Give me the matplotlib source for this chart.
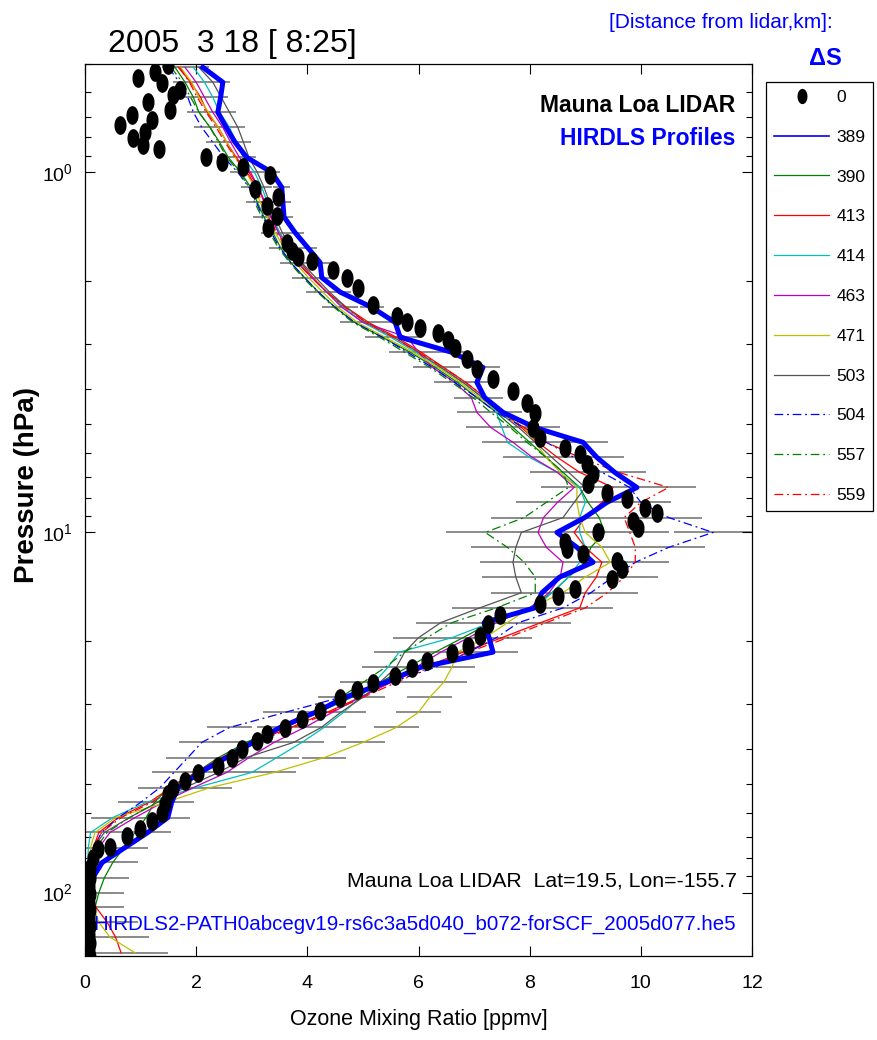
import numpy as np
import matplotlib
matplotlib.use("Agg")
import matplotlib.pyplot as plt
from matplotlib import font_manager
from matplotlib.lines import Line2D

# Narrow face for the MATLAB-like labels, plain Liberation Sans if it is missing
_installed = {f.name for f in font_manager.fontManager.ttflist}
NARROW = "Liberation Sans Narrow" if "Liberation Sans Narrow" in _installed else "Liberation Sans"
BOLD = "Liberation Sans"

plt.rcParams.update({
    "font.family": [NARROW, "DejaVu Sans"],
    "mathtext.fontset": "custom",
    "mathtext.rm": NARROW,
    "mathtext.it": NARROW,
    "mathtext.bf": NARROW,
})

# HIRDLS retrieval levels [hPa]
PRESS = [0.511, 0.562, 0.619, 0.681, 0.750, 0.825, 0.909, 1.0, 1.10, 1.21,
         1.33, 1.47, 1.62, 1.78, 1.96, 2.15, 2.37, 2.61, 2.87, 3.16,
         3.48, 3.83, 4.22, 4.64, 5.11, 5.62, 6.19, 6.81, 7.50, 8.25,
         9.09, 10.0, 11.0, 12.1, 13.3, 14.7, 16.2, 17.8, 19.6, 21.5,
         23.7, 26.1, 28.7, 31.6, 34.8, 38.3, 42.2, 46.4, 51.1, 56.2,
         61.9, 68.1, 75.0, 82.5, 90.9, 100, 110, 121, 133, 147]

# HIRDLS ozone profiles [ppmv], one per distance from the lidar (km)
O3_389 = [2.12, 2.48, 2.44, 2.39, 2.54, 2.70, 2.91, 3.36, 3.54, 3.56,
          3.58, 3.78, 4.01, 4.23, 4.26, 4.59, 5.16, 5.58, 5.67, 6.60,
          7.16, 7.05, 7.19, 7.52, 8.09, 8.96, 9.21, 9.53, 9.93, 9.39,
          8.99, 8.49, 8.85, 9.14, 8.54, 8.22, 8.09, 7.18, 7.27, 7.34,
          6.03, 5.40, 4.68, 4.14, 3.51, 3.02, 2.54, 2.07, 1.67, 1.56,
          1.49, 1.13, 0.72, 0.31, 0.14, 0.09, 0.05, 0.04, 0.02, 0.01]
O3_390 = [1.62, 1.80, 1.95, 2.05, 2.25, 2.42, 2.58, 2.80, 2.98, 3.10,
          3.22, 3.38, 3.52, 3.70, 3.95, 4.20, 4.50, 4.85, 5.35, 5.85,
          6.30, 6.70, 7.05, 7.40, 7.70, 8.00, 8.30, 8.60, 8.90, 9.05,
          9.25, 9.35, 9.10, 9.00, 8.70, 8.40, 8.00, 7.30, 6.80, 6.30,
          5.80, 5.30, 4.80, 4.20, 3.60, 2.90, 2.40, 2.00, 1.50, 1.25,
          1.10, 0.90, 0.70, 0.50, 0.35, 0.25, 0.18, 0.12, 0.10, 0.08]
O3_413 = [1.68, 1.90, 2.08, 2.20, 2.40, 2.55, 2.72, 2.95, 3.12, 3.22,
          3.35, 3.50, 3.68, 3.88, 4.10, 4.35, 4.70, 5.10, 5.60, 6.05,
          6.45, 6.85, 7.20, 7.50, 7.85, 8.15, 8.50, 8.90, 9.50, 9.30,
          9.00, 8.80, 9.00, 9.30, 9.20, 9.00, 8.90, 8.20, 7.50, 6.80,
          6.10, 5.50, 4.95, 4.35, 3.70, 3.00, 2.45, 2.00, 1.55, 1.15,
          0.60, 0.25, 0.15, 0.10, 0.08, 0.10, 0.20, 0.40, 0.55, 0.65]
O3_414 = [1.95, 2.15, 2.30, 2.42, 2.60, 2.72, 2.85, 3.05, 3.18, 3.28,
          3.38, 3.50, 3.65, 3.85, 4.08, 4.35, 4.65, 5.00, 5.50, 5.95,
          6.40, 6.80, 7.15, 7.40, 7.50, 7.60, 8.00, 8.50, 8.90, 9.00,
          8.90, 8.90, 9.00, 8.90, 8.70, 8.40, 8.10, 7.30, 6.60, 5.65,
          5.45, 5.20, 4.95, 4.65, 4.30, 3.90, 3.45, 3.00, 2.00, 1.10,
          0.50, 0.10, 0.06, 0.05, 0.05, 0.05, 0.05, 0.05, 0.05, 0.05]
O3_463 = [1.80, 2.00, 2.15, 2.30, 2.48, 2.62, 2.78, 2.98, 3.12, 3.24,
          3.34, 3.48, 3.62, 3.82, 4.08, 4.35, 4.62, 5.00, 5.80, 6.00,
          6.25, 6.65, 6.95, 7.05, 7.30, 7.70, 8.05, 8.50, 8.80, 8.50,
          8.25, 8.15, 8.30, 8.60, 8.55, 8.35, 8.00, 7.40, 6.90, 6.40,
          5.95, 5.50, 4.95, 4.45, 3.95, 3.40, 2.95, 2.55, 1.95, 1.40,
          0.90, 0.45, 0.25, 0.15, 0.10, 0.08, 0.07, 0.06, 0.06, 0.05]
O3_471 = [1.72, 1.92, 2.05, 2.22, 2.40, 2.55, 2.70, 2.90, 3.05, 3.15,
          3.28, 3.42, 3.58, 3.78, 4.02, 4.28, 4.55, 4.90, 5.40, 5.90,
          6.35, 6.75, 7.10, 7.45, 7.90, 8.10, 8.30, 8.55, 8.85, 8.85,
          8.90, 9.00, 9.30, 9.45, 9.00, 8.60, 8.00, 7.60, 7.20, 6.70,
          6.60, 6.45, 6.20, 6.00, 5.60, 5.00, 4.30, 3.40, 2.25, 1.45,
          0.55, 0.18, 0.10, 0.08, 0.08, 0.10, 0.15, 0.25, 0.45, 0.90]
O3_503 = [2.05, 2.30, 2.45, 2.60, 2.75, 2.85, 2.95, 3.10, 3.22, 3.32,
          3.42, 3.55, 3.70, 3.90, 4.15, 4.40, 4.70, 5.05, 5.55, 6.00,
          6.40, 6.80, 7.15, 7.45, 7.80, 8.10, 8.40, 8.70, 9.00, 8.80,
          8.60, 7.85, 7.75, 7.70, 7.75, 7.85, 7.10, 6.40, 6.00, 5.75,
          5.60, 5.30, 5.00, 4.60, 4.25, 3.75, 2.90, 2.40, 1.80, 1.30,
          0.80, 0.35, 0.15, 0.10, 0.08, 0.07, 0.06, 0.05, 0.05, 0.05]
O3_504 = [1.50, 1.70, 1.85, 1.95, 2.10, 2.30, 2.50, 2.75, 2.95, 3.08,
          3.20, 3.35, 3.50, 3.70, 3.95, 4.20, 4.50, 4.85, 5.35, 5.80,
          6.25, 6.65, 7.05, 7.40, 7.90, 8.30, 8.80, 9.30, 9.80, 10.00,
          10.50, 11.30, 10.50, 9.90, 9.50, 9.10, 8.60, 7.80, 7.40, 6.90,
          6.30, 5.50, 4.60, 3.60, 2.60, 2.10, 1.85, 1.60, 1.35, 1.00,
          0.60, 0.30, 0.15, 0.10, 0.08, 0.07, 0.06, 0.05, 0.05, 0.05]
O3_557 = [1.55, 1.75, 1.90, 2.05, 2.25, 2.40, 2.55, 2.78, 2.95, 3.05,
          3.18, 3.32, 3.48, 3.68, 3.92, 4.18, 4.48, 4.82, 5.30, 5.75,
          6.20, 6.60, 6.98, 7.30, 7.65, 7.95, 8.30, 8.60, 8.70, 8.30,
          7.90, 7.20, 7.60, 7.90, 8.10, 8.10, 7.40, 6.60, 6.15, 5.75,
          5.40, 5.00, 4.60, 4.10, 3.50, 2.90, 2.50, 2.10, 1.70, 1.30,
          0.80, 0.40, 0.20, 0.12, 0.10, 0.08, 0.07, 0.06, 0.06, 0.05]
O3_559 = [1.70, 1.88, 2.02, 2.18, 2.36, 2.52, 2.70, 2.92, 3.08, 3.18,
          3.30, 3.45, 3.62, 3.82, 4.08, 4.35, 4.68, 5.05, 5.55, 6.00,
          6.45, 6.85, 7.20, 7.50, 7.90, 8.30, 8.90, 9.60, 10.50, 10.00,
          9.70, 9.80, 9.90, 9.90, 9.70, 9.40, 9.00, 8.30, 7.60, 6.90,
          6.20, 5.60, 5.00, 4.40, 3.75, 3.05, 2.50, 2.05, 1.60, 1.20,
          0.65, 0.30, 0.15, 0.10, 0.08, 0.07, 0.06, 0.05, 0.05, 0.05]

# retrieval error (half width, ppmv) per level
O3_ERR = [0.12, 0.12, 0.12, 0.12, 0.13, 0.13, 0.13, 0.14, 0.15, 0.15,
          0.16, 0.16, 0.17, 0.18, 0.19, 0.20, 0.22, 0.24, 0.26, 0.28,
          0.30, 0.32, 0.32, 0.35, 0.45, 0.45, 0.48, 0.50, 0.50, 0.55,
          0.60, 0.70, 0.65, 0.60, 0.60, 0.55, 0.50, 0.45, 0.45, 0.45,
          0.42, 0.42, 0.40, 0.40, 0.40, 0.40, 0.40, 0.40, 0.40, 0.40,
          0.40, 0.42, 0.42, 0.45, 0.45, 0.45, 0.50, 0.55, 0.60, 0.60]

# Mauna Loa lidar ozone
LIDAR_P = [0.504, 0.527, 0.548, 0.565, 0.592, 0.611, 0.638, 0.673, 0.694, 0.717,
           0.740, 0.774, 0.804, 0.841, 0.863, 0.908, 0.938, 0.968, 1.02, 1.11,
           1.17, 1.24, 1.32, 1.43, 1.57, 1.65, 1.72, 1.76, 1.87, 1.97,
           2.10, 2.34, 2.50, 2.61, 2.70, 2.80, 2.93, 3.07, 3.29, 3.51,
           3.74, 4.04, 4.36, 4.65, 5.12, 5.46, 5.82, 6.05, 6.45, 6.87,
           7.33, 7.76, 8.07, 8.55, 8.83, 9.29, 9.71, 10.0, 10.6, 11.1,
           11.5, 12.0, 12.6, 13.5, 14.4, 15.0, 15.8, 16.9, 18.0, 19.4,
           20.7, 21.6, 22.8, 23.8, 25.1, 26.2, 27.3, 28.9, 31.4, 33.0,
           35.0, 36.3, 38.0, 40.0, 42.4, 44.6, 46.7, 49.1, 51.4, 53.4,
           56.9, 60.3, 63.4, 66.4, 69.8, 74.5, 75.9, 80.4, 85.7, 91.4,
           96.2, 101, 107, 112, 118, 124, 131, 138, 145, 151]
LIDAR_O3 = [1.49, 1.26, 0.95, 1.38, 1.71, 1.58, 1.13, 1.53, 0.85, 1.21,
            0.63, 1.08, 0.86, 1.04, 1.33, 2.18, 2.46, 2.84, 3.33, 3.06,
            3.47, 3.27, 3.45, 3.29, 3.63, 3.72, 3.83, 4.08, 4.46, 4.71,
            4.91, 5.18, 5.61, 5.79, 6.03, 6.35, 6.53, 6.65, 6.87, 7.05,
            7.34, 7.70, 7.95, 8.09, 8.06, 8.18, 8.63, 8.90, 9.03, 9.14,
            9.05, 9.39, 9.75, 10.07, 10.29, 9.86, 9.95, 9.23, 8.63, 8.67,
            8.96, 9.57, 9.66, 9.48, 8.81, 8.51, 8.18, 7.46, 7.25, 7.10,
            6.89, 6.60, 6.15, 5.88, 5.58, 5.18, 4.89, 4.59, 4.23, 3.90,
            3.60, 3.27, 3.09, 2.82, 2.64, 2.39, 2.03, 1.80, 1.58, 1.49,
            1.44, 1.38, 1.21, 0.99, 0.76, 0.45, 0.23, 0.14, 0.09, 0.09,
            0.08, 0.09, 0.08, 0.09, 0.08, 0.09, 0.08, 0.09, 0.08, 0.09]

DISTANCES = ["389", "390", "413", "414", "463", "471", "503", "504", "557", "559"]
PROFILES = [O3_389, O3_390, O3_413, O3_414, O3_463, O3_471, O3_503, O3_504, O3_557, O3_559]

DASHDOT = (0, (7, 3, 1.5, 3))
STYLES = {
    "389": ("#0000ff", "-", 3.6),
    "390": ("#008000", "-", 0.9),
    "413": ("#ff0000", "-", 0.9),
    "414": ("#00bfbf", "-", 0.9),
    "463": ("#bf00bf", "-", 0.9),
    "471": ("#bfbf00", "-", 0.9),
    "503": ("#555555", "-", 0.9),
    "504": ("#0000ff", DASHDOT, 0.9),
    "557": ("#008000", DASHDOT, 0.9),
    "559": ("#ff0000", DASHDOT, 0.9),
}

# tall ellipse marker for the lidar points
_t = np.linspace(0, 2 * np.pi, 25)
DOT = np.column_stack([0.62 * np.cos(_t), np.sin(_t)])

fig = plt.figure(figsize=(8.77, 10.4), dpi=100)
ax = fig.add_axes([0.0969, 0.0808, 0.7606, 0.8577])

for name, prof in zip(DISTANCES, PROFILES):
    ax.errorbar(prof, PRESS, xerr=O3_ERR, fmt="none", ecolor="#8c8c8c",
                elinewidth=1.4, capsize=0, zorder=1)

for name, prof in zip(DISTANCES, PROFILES):
    color, ls, lw = STYLES[name]
    ax.plot(prof, PRESS, color=color, linestyle=ls, linewidth=lw,
            zorder=3 if name == "389" else 2)

ax.plot(LIDAR_O3, LIDAR_P, linestyle="none", marker=DOT, markersize=12.5,
        color="black", zorder=4)

ax.set_yscale("log")
ax.set_ylim(150, 0.5)
ax.set_xlim(0, 12)
ax.set_xticks([0, 2, 4, 6, 8, 10, 12])
ax.set_yticks([1, 10, 100])
ax.set_yticklabels([r"$\mathrm{10^{0}}$", r"$\mathrm{10^{1}}$", r"$\mathrm{10^{2}}$"])
ax.tick_params(which="both", direction="in", top=True, right=True)
ax.tick_params(which="major", length=7, width=0.8, labelsize=14)
ax.tick_params(axis="x", pad=14)
ax.tick_params(axis="y", pad=9)
ax.tick_params(which="minor", length=4, width=0.8)
for s in ax.spines.values():
    s.set_linewidth(0.9)

ax.set_xlabel("Ozone Mixing Ratio [ppmv]", fontsize=15.5, labelpad=12)
ax.set_ylabel("Pressure (hPa)", fontsize=20, fontweight="bold", family=BOLD)
ax.yaxis.set_label_coords(-0.068, 0.528)

ax.text(0.9745, 0.946, "Mauna Loa LIDAR", transform=ax.transAxes, ha="right",
        va="baseline", fontsize=16.5, fontweight="bold", family=BOLD, color="black")
ax.text(0.9745, 0.909, "HIRDLS Profiles", transform=ax.transAxes, ha="right",
        va="baseline", fontsize=16.5, fontweight="bold", family=BOLD, color="#0000ff")
ax.text(0.977, 0.0774, "Mauna Loa LIDAR  Lat=19.5, Lon=-155.7", transform=ax.transAxes,
        ha="right", va="baseline", fontsize=15.3, color="black")
ax.text(0.012, 0.029, "HIRDLS2-PATH0abcegv19-rs6c3a5d040_b072-forSCF_2005d077.he5",
        transform=ax.transAxes, ha="left", va="baseline", fontsize=14.8, color="#0000ff")

fig.text(0.123, 0.950, "2005  3 18 [ 8:25]", ha="left", va="baseline", fontsize=23)
fig.text(0.950, 0.973, "[Distance from lidar,km]:", ha="right", va="baseline",
         fontsize=15, color="#0000ff")
fig.text(0.960, 0.9375, "\u0394S", ha="right", va="baseline", fontsize=17,
         fontweight="bold", family=BOLD, color="#0000ff")

handles = [Line2D([0], [0], linestyle="none", marker=DOT, markersize=10, color="black")]
for name in DISTANCES:
    color, ls, lw = STYLES[name]
    handles.append(Line2D([0], [0], color=color, linestyle=ls, linewidth=min(lw, 1.2)))
leg = fig.legend(handles, ["0"] + DISTANCES, loc="upper left",
                 bbox_to_anchor=(766 / 877, 1 - 82 / 1040), fontsize=12.5,
                 frameon=True, fancybox=False, edgecolor="black", framealpha=1,
                 handlelength=3.2, handletextpad=0.4, labelspacing=1.42,
                 borderpad=0.45, borderaxespad=0)
leg.get_frame().set_linewidth(0.9)

fig.savefig("out.png", dpi=100)
